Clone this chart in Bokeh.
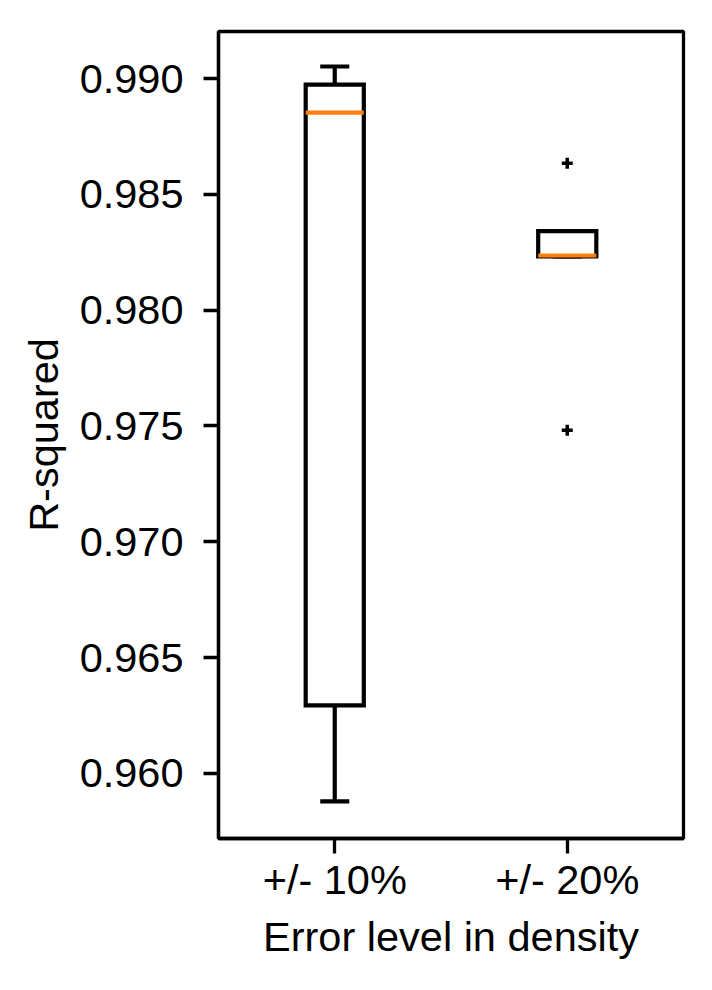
from bokeh.plotting import figure
from bokeh.models import Range1d, FixedTicker, NumeralTickFormatter
from bokeh.embed import file_html
from bokeh.resources import INLINE

categories = ["+/- 10%", "+/- 20%"]
q1 = [0.96294, 0.98232]
median = [0.98853, 0.98236]
q3 = [0.98974, 0.98341]
whisker_lo = [0.95879, 0.98232]
whisker_hi = [0.99052, 0.98341]
outlier_cat = [2, 2]
outlier_val = [0.98634, 0.97481]
y_ticks = [0.960, 0.965, 0.970, 0.975, 0.980, 0.985, 0.990]

FONT = "Liberation Sans"
FS = "41.5px"
LW = 4.2
AXW = 3.3

pos = [i + 1 for i in range(len(categories))]
box_w = 0.25
cap_w = 0.125

p = figure(width=696, height=974, output_backend="svg", toolbar_location=None,
           x_range=Range1d(0.5, 2.5), y_range=Range1d(0.95719, 0.99203),
           min_border_left=218, min_border_right=13, min_border_top=31,
           min_border_bottom=136)
p.xgrid.visible = False
p.ygrid.visible = False
p.background_fill_color = "white"
p.border_fill_color = "white"
p.outline_line_color = "black"
p.outline_line_width = AXW

# whiskers
p.segment(x0=pos, x1=pos, y0=q3, y1=whisker_hi, line_color="black", line_width=LW)
p.segment(x0=pos, x1=pos, y0=q1, y1=whisker_lo, line_color="black", line_width=LW)
# caps
p.segment(x0=[x - cap_w / 2 for x in pos], x1=[x + cap_w / 2 for x in pos],
          y0=whisker_hi, y1=whisker_hi, line_color="black", line_width=LW)
p.segment(x0=[x - cap_w / 2 for x in pos], x1=[x + cap_w / 2 for x in pos],
          y0=whisker_lo, y1=whisker_lo, line_color="black", line_width=LW)
# boxes
p.quad(left=[x - box_w / 2 for x in pos], right=[x + box_w / 2 for x in pos],
       bottom=q1, top=q3, fill_color="white", line_color="black", line_width=LW,
       line_join="miter")
# medians
p.segment(x0=[x - box_w / 2 for x in pos], x1=[x + box_w / 2 for x in pos],
          y0=median, y1=median, line_color="#ff7f0e", line_width=LW)
# outliers
p.scatter(x=[pos[c - 1] for c in outlier_cat], y=outlier_val, marker="cross",
          size=11, line_color="black", line_width=3.5)

for ax in (p.xaxis, p.yaxis):
    ax.axis_line_width = AXW
    ax.axis_line_color = "black"
    ax.major_tick_line_width = AXW
    ax.major_tick_out = 15
    ax.major_tick_in = 0
    ax.minor_tick_line_color = None
    ax.major_label_text_font = FONT
    ax.major_label_text_font_size = FS
    ax.major_label_text_color = "black"
    ax.axis_label_text_font = FONT
    ax.axis_label_text_font_size = FS
    ax.axis_label_text_font_style = "normal"
    ax.axis_label_text_color = "black"

p.xaxis.ticker = FixedTicker(ticks=pos)
p.xaxis.major_label_overrides = {x: c for x, c in zip(pos, categories)}
p.xaxis.major_label_standoff = 2
p.xaxis.axis_label = "Error level in density"
p.xaxis.axis_label_standoff = 7

p.yaxis.ticker = FixedTicker(ticks=y_ticks)
p.yaxis.formatter = NumeralTickFormatter(format="0.000")
p.yaxis.major_label_standoff = 20
p.yaxis.axis_label = "R-squared"
p.yaxis.axis_label_standoff = 10

open("out.html", "w").write(file_html(p, INLINE))
